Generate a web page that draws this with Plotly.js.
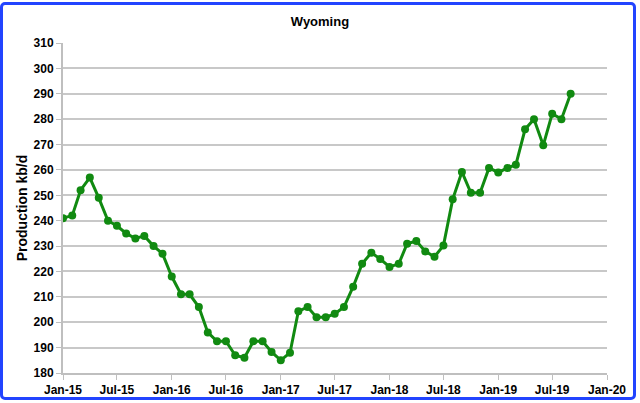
<!DOCTYPE html>
<html>
<head>
<meta charset="utf-8">
<script src="https://cdn.plot.ly/plotly-3.0.1.min.js"></script>
<style>
  html, body { margin: 0; padding: 0; background: #ffffff; }
  #wrap { position: relative; width: 640px; height: 403px; }
  #chart { position: absolute; left: 0; top: 0; width: 640px; height: 403px; }
  #frame { position: absolute; left: 0px; top: 2px; width: 636px; height: 398px;
           box-sizing: border-box; border: 3px solid #2244ff; border-radius: 5px;
           pointer-events: none; }
</style>
</head>
<body>
<div id="wrap">
  <div id="chart"></div>
  <div id="frame"></div>
</div>
<script>
const months = [
  '2015-01','2015-02','2015-03','2015-04','2015-05','2015-06','2015-07','2015-08','2015-09','2015-10','2015-11','2015-12',
  '2016-01','2016-02','2016-03','2016-04','2016-05','2016-06','2016-07','2016-08','2016-09','2016-10','2016-11','2016-12',
  '2017-01','2017-02','2017-03','2017-04','2017-05','2017-06','2017-07','2017-08','2017-09','2017-10','2017-11','2017-12',
  '2018-01','2018-02','2018-03','2018-04','2018-05','2018-06','2018-07','2018-08','2018-09','2018-10','2018-11','2018-12',
  '2019-01','2019-02','2019-03','2019-04','2019-05','2019-06','2019-07','2019-08','2019-09'
];
const production = [
  241, 242, 252, 257, 249, 240, 238, 235, 233, 234, 230, 227,
  218, 211, 211, 206, 196, 192.5, 192.5, 187, 186, 192.5, 192.5, 188.3,
  185, 188, 204.3, 206, 202, 202, 203.3, 206, 214, 223, 227.4, 224.9,
  221.8, 223, 230.9, 232, 227.9, 225.8, 230.2, 248.4, 259.2, 251, 251, 260.8,
  259, 260.8, 262, 276, 280, 269.7, 282.1, 280, 290
];
const tickVals = ['2015-01-01','2015-07-01','2016-01-01','2016-07-01','2017-01-01','2017-07-01',
                  '2018-01-01','2018-07-01','2019-01-01','2019-07-01','2020-01-01'];
const tickText = ['Jan-15','Jul-15','Jan-16','Jul-16','Jan-17','Jul-17',
                  'Jan-18','Jul-18','Jan-19','Jul-19','Jan-20'];
const chartTitle = 'Wyoming';
const yTitle = 'Production kb/d';

const font = 'Liberation Sans, Arial, sans-serif';

const trace = {
  x: months.map(m => m + '-01'),
  y: production,
  type: 'scatter',
  mode: 'lines+markers',
  line: { color: '#118a11', width: 3 },
  marker: { color: '#118a11', size: 8 },
  hoverinfo: 'x+y'
};

const layout = {
  width: 640, height: 403,
  paper_bgcolor: '#ffffff', plot_bgcolor: '#ffffff',
  margin: { l: 63, r: 33, t: 43, b: 30 },
  showlegend: false,
  title: { text: '<b>' + chartTitle + '</b>', x: 0.5, xanchor: 'center', y: 0.948, yanchor: 'middle',
           font: { family: font, size: 13, color: '#000000' } },
  xaxis: {
    type: 'date',
    range: ['2015-01-01', '2020-01-01'],
    tickmode: 'array', tickvals: tickVals, ticktext: tickText,
    tickfont: { family: font, size: 12, color: '#000000', weight: 'bold' },
    showgrid: false, zeroline: false,
    showline: true, linecolor: '#bfbfbf', linewidth: 2,
    ticks: 'outside', ticklen: 5, tickcolor: '#bfbfbf', tickwidth: 1
  },
  yaxis: {
    range: [180, 310],
    tickmode: 'linear', tick0: 180, dtick: 10,
    tickfont: { family: font, size: 12, color: '#000000', weight: 'bold' },
    showgrid: true, gridcolor: '#c8c8c8', gridwidth: 2,
    zeroline: false,
    showline: true, linecolor: '#bfbfbf', linewidth: 2,
    ticks: 'outside', ticklen: 5, tickcolor: '#bfbfbf', tickwidth: 1,
    title: { text: '<b>' + yTitle + '</b>', standoff: 3,
             font: { family: font, size: 14, color: '#000000' } }
  }
};

Plotly.newPlot('chart', [trace], layout, { displayModeBar: false, staticPlot: true });
</script>
</body>
</html>
